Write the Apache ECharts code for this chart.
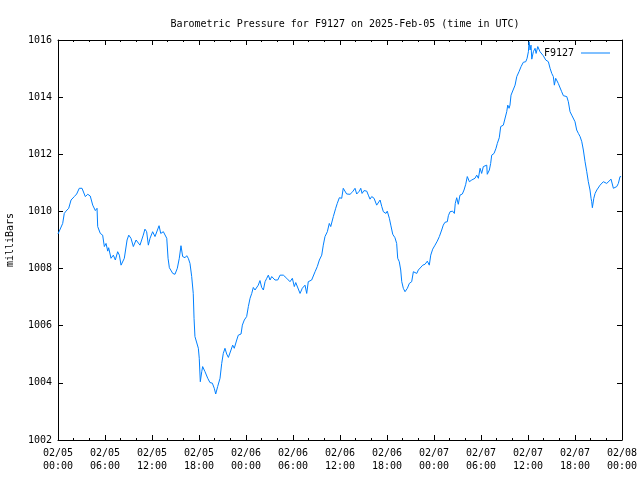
<!DOCTYPE html>
<html>
<head>
<meta charset="utf-8">
<script src="https://cdn.jsdelivr.net/npm/echarts@6/dist/echarts.min.js"></script>
<style>
html,body{margin:0;padding:0;background:#fff;}
#chart{width:640px;height:480px;}
</style>
</head>
<body>
<div id="chart"></div>
<script>
const titleText = 'Barometric Pressure for F9127 on 2025-Feb-05 (time in UTC)';
const seriesName = 'F9127';
const yAxisName = 'milliBars';
const xTickLabels = ['02/05\n00:00','02/05\n06:00','02/05\n12:00','02/05\n18:00','02/06\n00:00','02/06\n06:00','02/06\n12:00','02/06\n18:00','02/07\n00:00','02/07\n06:00','02/07\n12:00','02/07\n18:00','02/08\n00:00'];
// minutes since 2025-02-05 00:00 UTC
const minutes = [0,36,48,61,82,100,125,143,163,184,209,228,247,266,286,299,304,324,342,355,368,381,388,406,424,439,457,470,483,508,529,542,559,577,598,610,628,643,653,666,679,692,705,725,743,756,774,787,807,833,843,853,866,879,896,914,929,942,955,973,986,998,1011,1024,1036,1042,1049,1062,1075,1082,1090,1101,1108,1126,1147,1164,1182,1197,1208,1223,1241,1254,1266,1279,1292,1305,1325,1338,1350,1369,1381,1402,1412,1427,1445,1458,1471,1484,1496,1509,1522,1534,1547,1560,1573,1586,1599,1611,1624,1637,1649,1662,1683,1701,1726,1752,1777,1795,1810,1821,1836,1854,1871,1892,1905,1917,1943,1956,1969,1986,2002,2020,2032,2045,2063,2078,2089,2097,2109,2127,2139,2155,2173,2185,2198,2211,2237,2257,2275,2288,2308,2319,2329,2344,2365,2377,2390,2403,2421,2441,2454,2467,2480,2492,2512,2522,2538,2549,2564,2581,2594,2602,2614,2625,2633,2645,2658,2666,2676,2691,2709,2722,2735,2748,2760,2773,2794,2811,2829,2844,2855,2870,2888,2905,2921,2939,2951,2964,2982,2990,3003,3023,3036,3043,3054,3066,3079,3097,3110,3123,3135,3151,3169,3181,3194,3207,3220,3233,3245,3258,3271,3284,3288,3304,3314,3322,3340,3355,3365,3380,3391,3411,3424,3437,3445,3455,3462,3470,3501,3514,3531,3547,3564,3583,3593,3603,3608,3616,3623,3629,3641,3654,3662,3675,3685,3692,3705,3717,3736,3756,3769,3782,3794,3802,3812,3822,3832,3845,3858,3871,3884,3897,3909,3922,3935,3948,3960,3973,3986,3999,4012,4024,4037,4050,4062,4075,4083,4088,4093,4104,4114,4127,4139,4152,4165,4177,4190,4203,4215,4236,4254,4267,4280,4292,4305,4313];
const pressure = [1009.21,1009.58,1009.93,1010.01,1010.11,1010.40,1010.52,1010.61,1010.81,1010.81,1010.52,1010.60,1010.54,1010.22,1010.03,1010.11,1009.47,1009.23,1009.17,1008.77,1008.88,1008.61,1008.73,1008.36,1008.47,1008.30,1008.59,1008.47,1008.12,1008.36,1009.00,1009.17,1009.06,1008.77,1009.00,1009.02,1008.82,1008.88,1009.17,1009.38,1009.29,1008.82,1009.06,1009.29,1009.12,1009.08,1009.50,1009.23,1009.29,1009.06,1008.36,1008.03,1008.10,1007.83,1007.80,1008.01,1008.36,1008.80,1008.42,1008.38,1008.45,1008.36,1008.18,1007.72,1007.13,1006.26,1005.62,1005.56,1005.21,1004.86,1004.04,1004.39,1004.57,1004.39,1004.16,1004.01,1003.99,1003.81,1003.61,1003.87,1004.16,1004.68,1005.03,1005.21,1005.01,1004.89,1005.15,1005.32,1005.21,1005.50,1005.67,1005.71,1006.02,1006.20,1006.32,1006.67,1006.96,1007.13,1007.34,1007.25,1007.19,1007.42,1007.58,1007.34,1007.25,1007.54,1007.66,1007.77,1007.60,1007.72,1007.77,1007.60,1007.60,1007.77,1007.77,1007.66,1007.54,1007.66,1007.37,1007.51,1007.48,1007.13,1007.31,1007.42,1007.13,1007.54,1007.60,1007.66,1007.89,1008.07,1008.30,1008.47,1008.82,1009.12,1009.29,1009.58,1009.47,1009.52,1009.82,1010.11,1010.28,1010.48,1010.46,1010.81,1010.78,1010.61,1010.60,1010.69,1010.81,1010.61,1010.71,1010.81,1010.63,1010.73,1010.71,1010.57,1010.43,1010.52,1010.46,1010.22,1010.25,1010.40,1010.17,1009.99,1009.93,1010.01,1009.76,1009.52,1009.20,1009.08,1008.88,1008.36,1008.24,1007.95,1007.54,1007.31,1007.19,1007.13,1007.31,1007.48,1007.54,1007.89,1007.89,1007.83,1007.95,1008.01,1008.12,1008.15,1008.26,1008.12,1008.47,1008.68,1008.82,1008.96,1009.12,1009.35,1009.52,1009.62,1009.64,1009.85,1009.99,1010.01,1009.93,1010.28,1010.48,1010.25,1010.57,1010.61,1010.75,1010.95,1011.22,1011.04,1011.10,1011.04,1011.16,1011.27,1011.16,1011.51,1011.33,1011.57,1011.51,1011.62,1011.30,1011.45,1011.68,1011.97,1012.03,1012.21,1012.38,1012.58,1012.97,1013.02,1013.08,1013.49,1013.72,1013.61,1013.72,1014.07,1014.42,1014.72,1014.89,1015.07,1015.22,1015.24,1015.36,1015.59,1015.94,1015.65,1015.82,1015.33,1015.59,1015.71,1015.53,1015.77,1015.80,1015.59,1015.53,1015.45,1015.30,1015.24,1015.01,1014.83,1014.72,1014.42,1014.66,1014.72,1014.48,1014.42,1014.19,1014.05,1014.02,1014.02,1013.84,1013.49,1013.37,1013.43,1013.14,1012.85,1012.73,1012.62,1012.44,1012.15,1011.74,1011.39,1011.04,1010.75,1010.46,1010.34,1010.13,1010.46,1010.63,1010.75,1010.71,1010.92,1010.98,1011.04,1011.10,1010.98,1011.04,1011.13,1010.81,1010.75,1010.87,1010.98,1011.22,1011.22];

const FONT = 'DejaVu Sans Mono';
const data = minutes.map((m, i) => [m / 60, pressure[i]]);
const chart = echarts.init(document.getElementById('chart'), null, {renderer: 'canvas'});
const axisBase = {
  axisLine: {show: true, onZero: false, lineStyle: {color: '#000', width: 1}},
  splitLine: {show: false}
};
const xCommon = Object.assign({}, axisBase, {
  type: 'value', min: 0, max: 72, interval: 6,
  axisTick: {show: true, inside: true, length: 5, lineStyle: {color: '#000'}},
  minorTick: {show: true, splitNumber: 3, length: 2, lineStyle: {color: '#000'}}
});
const yCommon = Object.assign({}, axisBase, {
  type: 'value', min: 1002, max: 1016, interval: 2,
  axisTick: {show: true, inside: true, length: 5, lineStyle: {color: '#000'}}
});
const option = {
  animation: false,
  backgroundColor: '#fff',
  title: {
    text: titleText, left: 340, top: 14, textAlign: 'center',
    textStyle: {fontFamily: FONT, fontSize: 10, fontWeight: 'normal', color: '#000'}
  },
  legend: {
    data: [{name: seriesName, icon: 'rect'}], right: 25, top: 43, align: 'right',
    itemWidth: 29, itemHeight: 1, itemGap: 5,
    textStyle: {fontFamily: FONT, fontSize: 10, color: '#000', padding: [0, 2, 0, 0]}
  },
  grid: {left: 58, right: 18, top: 40, bottom: 40, containLabel: false, outerBoundsMode: 'none'},
  xAxis: [
    Object.assign({}, xCommon, {
      position: 'bottom',
      axisLabel: {
        show: true, margin: 7, fontFamily: FONT, fontSize: 10, color: '#000', lineHeight: 13,
        formatter: v => xTickLabels[Math.round(v / 6)] || ''
      }
    }),
    Object.assign({}, xCommon, {position: 'top', axisLabel: {show: false}})
  ],
  yAxis: [
    Object.assign({}, yCommon, {
      position: 'left',
      name: yAxisName, nameLocation: 'middle', nameRotate: 90, nameGap: 43,
      nameTextStyle: {fontFamily: FONT, fontSize: 10, color: '#000'},
      axisLabel: {show: true, margin: 6, fontFamily: FONT, fontSize: 10, color: '#000',
        formatter: v => String(v)}
    }),
    Object.assign({}, yCommon, {position: 'right', axisLabel: {show: false}})
  ],
  series: [{
    name: seriesName, type: 'line', data: data,
    xAxisIndex: 0, yAxisIndex: 0,
    showSymbol: false, symbol: 'none',
    lineStyle: {color: '#0080ff', width: 1},
    itemStyle: {color: '#0080ff'}
  }]
};
chart.setOption(option);
</script>
</body>
</html>
